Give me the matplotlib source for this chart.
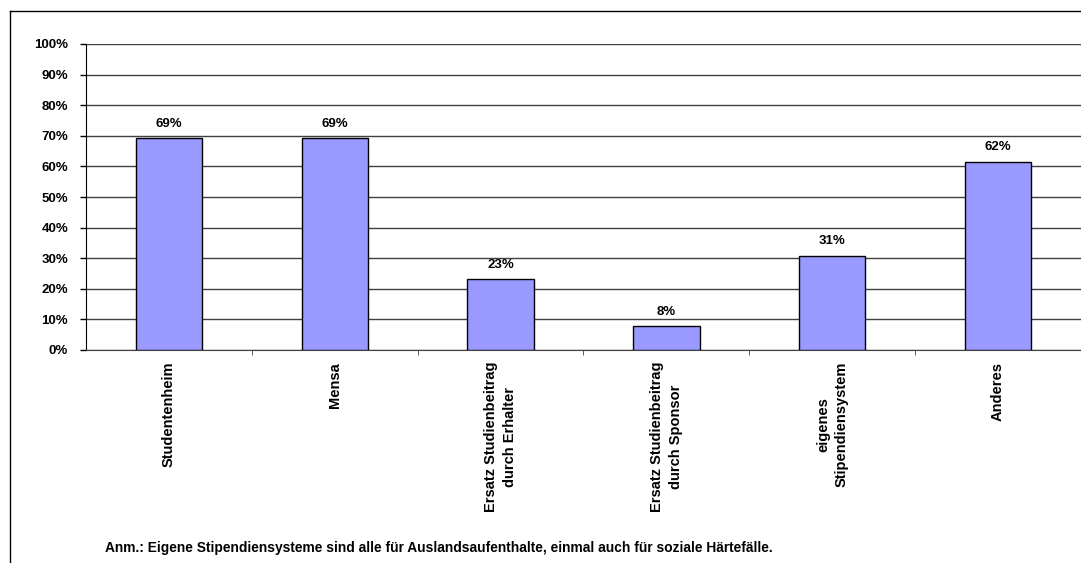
import numpy as np
import matplotlib
matplotlib.use("Agg")
import matplotlib.pyplot as plt
from matplotlib.lines import Line2D

plt.rcParams['font.family'] = ['Liberation Sans', 'DejaVu Sans']

# data
categories = [
    "Studentenheim",
    "Mensa",
    "Ersatz Studienbeitrag\ndurch Erhalter",
    "Ersatz Studienbeitrag\ndurch Sponsor",
    "eigenes\nStipendiensystem",
    "Anderes",
]
values = [69.2, 69.2, 23.1, 7.7, 30.8, 61.5]
y_ticks = [0, 10, 20, 30, 40, 50, 60, 70, 80, 90, 100]
note = "Anm.: Eigene Stipendiensysteme sind alle für Auslandsaufenthalte, einmal auch für soziale Härtefälle."

W, H = 1081, 563
fig = plt.figure(figsize=(W / 100, H / 100), dpi=100)
ax = fig.add_axes([86 / W, 1 - 350 / H, (W - 86) / W, (350 - 44) / H])

x = np.arange(len(categories))
ax.bar(x, values, width=0.4, color='#9999FF', edgecolor='black',
       linewidth=1, zorder=3)

# value labels
for xi, v in zip(x, values):
    ax.text(xi, v + 2.8, f"{v:.0f}%", ha='center', va='bottom',
            fontsize=9.5, fontweight='bold')

ax.set_xlim(-0.5, len(categories) - 0.5)
ax.set_ylim(0, 100)
ax.set_yticks(y_ticks)
ax.set_yticklabels([f"{t}%" for t in y_ticks], fontsize=9.5, fontweight='bold')
ax.yaxis.grid(True, color='#404040', linewidth=1, zorder=0)
ax.set_axisbelow(True)

ax.set_xticks(x)
ax.set_xticklabels(categories, rotation=90, ha='center', va='top',
                   multialignment='center', fontsize=10.5, fontweight='bold',
                   linespacing=1.4)
ax.tick_params(axis='x', length=0, pad=8.5)
ax.set_xticks(np.arange(0.5, len(categories) - 0.5), minor=True)
ax.tick_params(axis='x', which='minor', length=3.6, color='#404040', direction='out')
ax.tick_params(axis='y', length=4.3, width=1, color='black', direction='out', pad=8.5)

for side in ('top', 'right'):
    ax.spines[side].set_visible(False)
ax.spines['left'].set_color('black')
ax.spines['bottom'].set_color('#404040')

# chart frame (left and top border)
fig.add_artist(Line2D([10 / W, 10 / W], [0, 1 - 11 / H], color='black', linewidth=1))
fig.add_artist(Line2D([10 / W, 1], [1 - 11 / H, 1 - 11 / H], color='black', linewidth=1))

fig.text(105 / W, 1 - 548 / H, note, ha='left', va='center',
         fontsize=9.9, fontweight='bold')

fig.savefig("out.png", dpi=100)
